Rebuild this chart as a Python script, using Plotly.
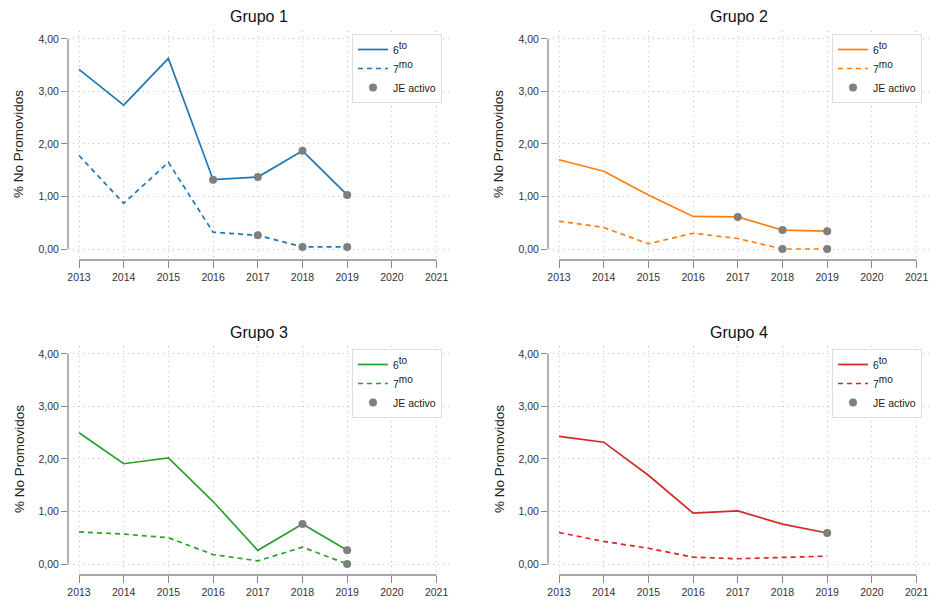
import plotly.graph_objects as go

years = [2013, 2014, 2015, 2016, 2017, 2018, 2019]
x_ticks = [2013, 2014, 2015, 2016, 2017, 2018, 2019, 2020, 2021]
y_ticks = [0, 1, 2, 3, 4]
y_ticklabels = ["0,00", "1,00", "2,00", "3,00", "4,00"]

groups = ["Grupo 1", "Grupo 2", "Grupo 3", "Grupo 4"]
colors = ["#1f77b4", "#ff7f0e", "#2ca02c", "#d62728"]

sexto_g1 = [3.42, 2.74, 3.63, 1.32, 1.37, 1.87, 1.03]
septimo_g1 = [1.78, 0.87, 1.65, 0.32, 0.26, 0.04, 0.04]
sexto_g2 = [1.70, 1.48, 1.03, 0.62, 0.61, 0.36, 0.34]
septimo_g2 = [0.53, 0.41, 0.10, 0.30, 0.20, 0.00, 0.00]
sexto_g3 = [2.50, 1.91, 2.02, 1.19, 0.26, 0.76, 0.26]
septimo_g3 = [0.61, 0.57, 0.50, 0.18, 0.06, 0.32, 0.00]
sexto_g4 = [2.43, 2.32, 1.69, 0.97, 1.01, 0.76, 0.59]
septimo_g4 = [0.60, 0.43, 0.30, 0.13, 0.10, 0.12, 0.15]

# years with "JE activo"
je_sexto = [[2016, 2017, 2018, 2019], [2017, 2018, 2019], [2018, 2019], [2019]]
je_septimo = [[2017, 2018, 2019], [2018, 2019], [2019], []]

sexto = [sexto_g1, sexto_g2, sexto_g3, sexto_g4]
septimo = [septimo_g1, septimo_g2, septimo_g3, septimo_g4]

# page body adds an 8px margin, so the figure is drawn 8px smaller and offset
OFF = 8
W, H = 938 - OFF, 601 - OFF
FONT = "Arial, Liberation Sans, sans-serif"

# pixel layout of panels (plot regions) in window pixels
col_left = [68, 548]
col_right = [450, 930]
row_bottom = [260, 575]
row_top = [31, 346]


def fx(px):
    return (px - OFF) / W


def fy(py):
    return 1 - (py - OFF) / H


fig = go.Figure()
point_color = "#7f7f7f"
sup_style = '<sup><span style="font-size:10px">{}</span></sup>'

for i in range(4):
    r, c = divmod(i, 2)
    n = i + 1
    xa = "x" if n == 1 else f"x{n}"
    ya = "y" if n == 1 else f"y{n}"
    leg = "legend" if n == 1 else f"legend{n}"
    fig.add_trace(go.Scatter(x=years, y=sexto[i], mode="lines", name="6" + sup_style.format("to"),
                             line=dict(color=colors[i], width=1.7), xaxis=xa, yaxis=ya, legend=leg))
    fig.add_trace(go.Scatter(x=years, y=septimo[i], mode="lines", name="7" + sup_style.format("mo"),
                             line=dict(color=colors[i], width=1.7, dash="5px,4px"),
                             xaxis=xa, yaxis=ya, legend=leg))
    px_x, px_y = [], []
    for yr in je_sexto[i]:
        px_x.append(yr); px_y.append(sexto[i][years.index(yr)])
    for yr in je_septimo[i]:
        px_x.append(yr); px_y.append(septimo[i][years.index(yr)])
    fig.add_trace(go.Scatter(x=px_x, y=px_y, mode="markers", name="JE activo",
                             marker=dict(color=point_color, size=8), xaxis=xa, yaxis=ya, legend=leg))

    axis_common = dict(showline=False, zeroline=False, showgrid=True, gridcolor="#c4c4c4",
                       griddash="1px,4px", gridwidth=1, ticks="outside", tickcolor="#888888",
                       automargin=False,
                       tickfont=dict(family=FONT, size=10.5, color="#333333"))
    fig.layout[xa.replace("x", "xaxis")] = dict(
        domain=[fx(col_left[c]), fx(col_right[c])], range=[2012.754, 2021.3], tickvals=x_ticks,
        ticktext=[str(t) for t in x_ticks], ticklen=7, anchor=ya, **axis_common)
    fig.layout[ya.replace("y", "yaxis")] = dict(
        domain=[fy(row_bottom[r]), fy(row_top[r])], range=[-0.2095, 4.152], tickvals=y_ticks,
        ticktext=y_ticklabels, ticklen=6, anchor=xa, **axis_common)

    # base-R style axis lines, spanning only first to last tick
    fig.add_shape(type="line", xref=xa, yref=f"{ya} domain", x0=x_ticks[0], x1=x_ticks[-1],
                  y0=0, y1=0, line=dict(color="#888888", width=1.3))
    fig.add_shape(type="line", xref=f"{xa} domain", yref=ya, x0=0, x1=0,
                  y0=y_ticks[0], y1=y_ticks[-1], line=dict(color="#888888", width=1.3))

    # title
    fig.add_annotation(text=groups[i], xref="paper", yref="paper",
                       x=fx((col_left[c] + col_right[c]) / 2), y=fy(17 + 315 * r),
                       showarrow=False, font=dict(family=FONT, size=16, color="#111111"),
                       xanchor="center", yanchor="middle")
    # y axis title
    fig.add_annotation(text="% No Promovidos", xref="paper", yref="paper",
                       x=fx(19 + 480 * c), y=fy(144 + 315 * r), textangle=-90,
                       showarrow=False, font=dict(family=FONT, size=13.5, color="#222222"),
                       xanchor="center", yanchor="middle")

    fig.layout[leg] = dict(x=fx(442 + 480 * c), y=fy(34 + 315 * r),
                           xanchor="right", yanchor="top", bgcolor="white",
                           bordercolor="#dddddd", borderwidth=1,
                           font=dict(family=FONT, size=10.5, color="#222222"),
                           tracegroupgap=0)

fig.update_layout(width=W, height=H, margin=dict(l=0, r=0, t=0, b=0),
                  paper_bgcolor="white", plot_bgcolor="white", showlegend=True,
                  font=dict(family=FONT))

fig.write_html("out.html")
